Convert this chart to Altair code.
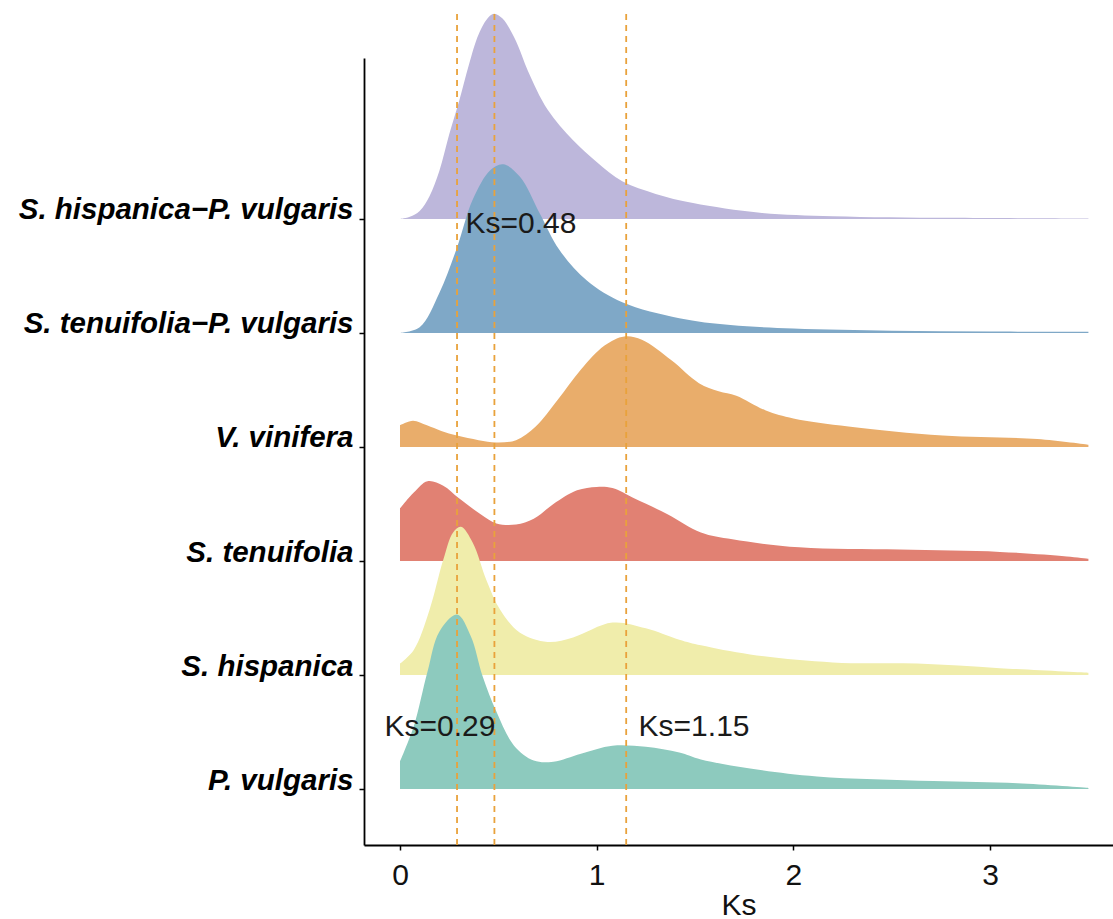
import altair as alt
import pandas as pd

# ---------------- data ----------------
species = ["S. hispanica\u2212P. vulgaris", "S. tenuifolia\u2212P. vulgaris",
           "V. vinifera", "S. tenuifolia", "S. hispanica", "P. vulgaris"]
row_pos = [6, 5, 4, 3, 2, 1]
colors = ["#BDB7DB", "#7FA8C7", "#E9AD6B", "#E18173", "#F0EDAB", "#8DCABE"]

ks_purple = [0, 0.05, 0.1, 0.15, 0.2, 0.25, 0.3, 0.35, 0.4, 0.45, 0.48, 0.52, 0.56, 0.6, 0.65,
             0.75, 0.88, 1.0, 1.13, 1.3, 1.49, 1.83, 2.2, 2.8, 3.5]
h_purple = [0, 0.02, 0.07, 0.2, 0.42, 0.74, 1.03, 1.35, 1.62, 1.77, 1.80, 1.76, 1.66, 1.52, 1.30,
            0.96, 0.69, 0.50, 0.33, 0.22, 0.14, 0.055, 0.025, 0.01, 0.005]

ks_blue = [0, 0.1, 0.2, 0.29, 0.37, 0.46, 0.525, 0.61, 0.71, 0.81, 0.95, 1.13, 1.42, 1.68,
           2.0, 2.5, 3.0, 3.5]
h_blue = [0, 0.05, 0.35, 0.75, 1.17, 1.43, 1.48, 1.37, 1.05, 0.73, 0.46, 0.27, 0.13, 0.07,
          0.04, 0.02, 0.012, 0.01]

ks_orange = [0, 0.066, 0.137, 0.21, 0.29, 0.40, 0.49, 0.59, 0.69, 0.80, 0.92, 1.04, 1.14, 1.23,
             1.38, 1.52, 1.62, 1.71, 1.86, 2.0, 2.28, 2.76, 3.24, 3.5]
h_orange = [0.19, 0.23, 0.19, 0.14, 0.10, 0.06, 0.04, 0.06, 0.18, 0.41, 0.68, 0.89, 0.97, 0.94,
            0.76, 0.56, 0.49, 0.45, 0.32, 0.25, 0.18, 0.10, 0.07, 0.02]

ks_red = [0, 0.07, 0.14, 0.22, 0.30, 0.41, 0.49, 0.59, 0.68, 0.78, 0.90, 1.0, 1.08, 1.19,
          1.36, 1.53, 1.69, 2.03, 2.54, 3.05, 3.39, 3.5]
h_red = [0.46, 0.60, 0.70, 0.66, 0.55, 0.41, 0.33, 0.32, 0.37, 0.50, 0.62, 0.65, 0.64, 0.55,
         0.41, 0.25, 0.19, 0.12, 0.10, 0.08, 0.04, 0.02]

ks_yellow = [0, 0.07, 0.15, 0.22, 0.27, 0.31, 0.37, 0.44, 0.51, 0.61, 0.75, 0.88, 1.08, 1.25,
             1.42, 1.53, 1.78, 2.20, 2.63, 3.05, 3.5]
h_yellow = [0.10, 0.22, 0.57, 1.01, 1.25, 1.30, 1.16, 0.83, 0.57, 0.37, 0.29, 0.33, 0.46, 0.41,
            0.31, 0.26, 0.18, 0.11, 0.10, 0.06, 0.02]

ks_teal = [0, 0.07, 0.14, 0.20, 0.29, 0.36, 0.42, 0.49, 0.58, 0.68, 0.78, 0.92, 1.08, 1.25,
           1.42, 1.53, 1.78, 2.12, 2.71, 3.14, 3.5]
h_teal = [0.24, 0.55, 1.03, 1.38, 1.53, 1.34, 0.99, 0.68, 0.38, 0.25, 0.24, 0.31, 0.38, 0.37,
          0.32, 0.26, 0.18, 0.11, 0.07, 0.05, 0.01]

vline_ks = [0.29, 0.48, 1.15]
ann_text = ["Ks=0.48", "Ks=0.29", "Ks=1.15"]
ann_ks = [0.615, 0.203, 1.495]
ann_y = [5.877, 1.465, 1.465]

x_ticks = [0, 1, 2, 3]
x_domain = [-0.183, 3.625]
y_domain = [0.509, 7.412]
vline_top = 7.83

series_ks = [ks_purple, ks_blue, ks_orange, ks_red, ks_yellow, ks_teal]
series_h = [h_purple, h_blue, h_orange, h_red, h_yellow, h_teal]

FONT = "Liberation Sans"

label_expr = ""
for name, pos in zip(species, row_pos):
    label_expr += f"datum.value == {pos} ? '{name}' : "
label_expr += "''"

x_enc = alt.X("ks:Q", scale=alt.Scale(domain=x_domain, nice=False, zero=False),
              axis=alt.Axis(values=x_ticks, title="Ks", format="d", labelFontSize=30,
                            titleFontSize=30, labelPadding=10, tickSize=5,
                            titleY=69, titleBaseline="alphabetic",
                            labelFont=FONT, titleFont=FONT, titleFontWeight="normal",
                            labelColor="#111", titleColor="#111"))
y_scale = alt.Scale(domain=y_domain, nice=False, zero=False)
y_axis = alt.Axis(values=row_pos, labelExpr=label_expr, title=None, labelFontSize=29.5,
                  labelFont=FONT, labelFontWeight="bold", labelFontStyle="italic",
                  labelColor="#000", labelBaseline="alphabetic", tickSize=5, labelPadding=6,
                  labelLimit=500)

layers = []
for name, pos, col, ks, hs in zip(species, row_pos, colors, series_ks, series_h):
    df = pd.DataFrame({"ks": ks, "top": [pos + h for h in hs], "base": [pos] * len(ks)})
    layers.append(
        alt.Chart(df).mark_area(color=col, opacity=1, interpolate="catmull-rom").encode(
            x=x_enc,
            y=alt.Y("top:Q", scale=y_scale, axis=y_axis),
            y2="base:Q",
        )
    )

vdf = pd.DataFrame({"ks": vline_ks, "y0": [y_domain[0]] * 3, "y1": [vline_top] * 3})
rules = alt.Chart(vdf).mark_rule(color="#E9A23B", strokeWidth=1.8, strokeDash=[6, 5]).encode(
    x=x_enc, y=alt.Y("y0:Q", scale=y_scale, axis=y_axis), y2="y1:Q")

adf = pd.DataFrame({"ks": ann_ks, "y": ann_y, "t": ann_text})
texts = alt.Chart(adf).mark_text(fontSize=30, font=FONT, color="#1a1a1a", baseline="alphabetic",
                                 align="center").encode(
    x=x_enc, y=alt.Y("y:Q", scale=y_scale, axis=y_axis), text="t:N")

chart = alt.layer(*layers, rules, texts).properties(
    width=749, height=787,
    autosize=alt.AutoSizeParams(type="none"),
    padding={"left": 364, "top": 58, "right": 0, "bottom": 74},
    background="white",
).configure_view(stroke=None).configure_axis(
    grid=False, domainColor="#000", domainWidth=1.8, tickColor="#000", tickWidth=1.5
)

chart.save("out.html", embed_options={"renderer": "svg", "actions": False})
